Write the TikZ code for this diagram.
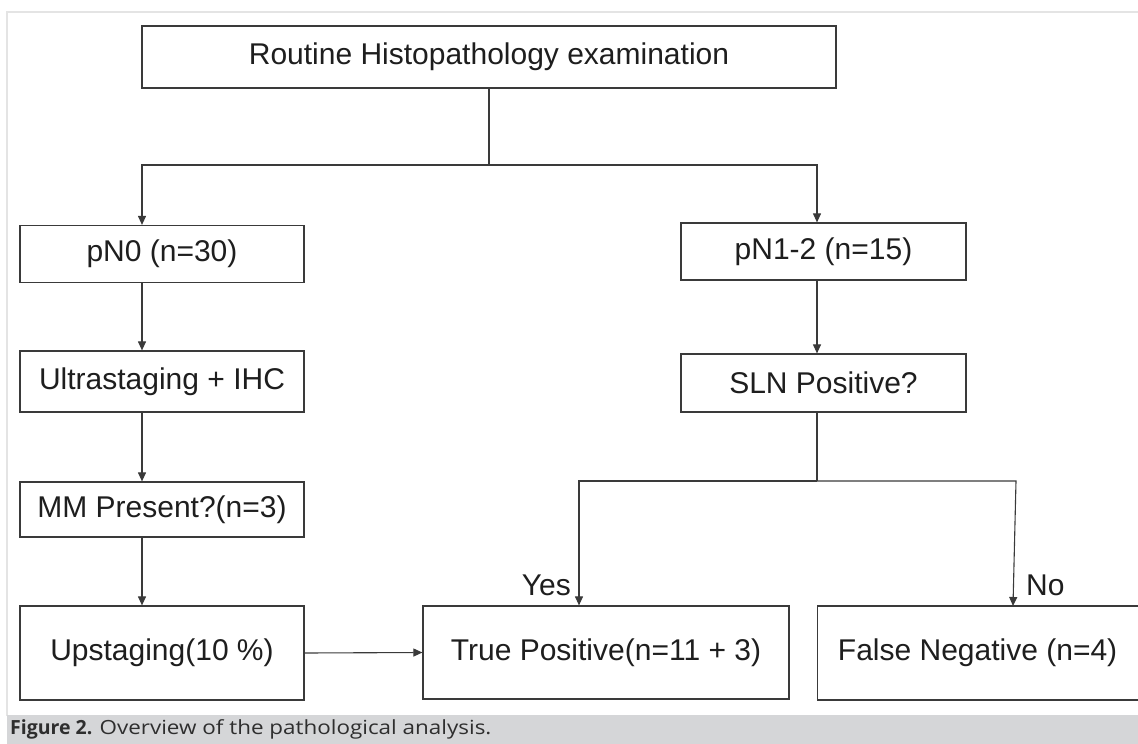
\documentclass[tikz,border=0pt]{standalone}
\usepackage{fontspec}
\setmainfont{Liberation Sans}
\newfontfamily\capfont{Open Sans}
\newfontfamily\capwide[FakeStretch=1.15]{Open Sans}
\usetikzlibrary{arrows.meta}
\definecolor{boxline}{HTML}{3A3A3A}
\definecolor{txt}{HTML}{1E1E1E}
\definecolor{framegray}{HTML}{E4E4E4}
\definecolor{capbar}{HTML}{D5D6D8}
\definecolor{captxt}{HTML}{2E2E2E}
\tikzset{
  box/.style={draw=boxline, line width=1.2pt, fill=white, inner sep=0pt,
    text=txt, font=\fontsize{30}{36}\selectfont},
  conn/.style={draw=boxline, line width=1.1pt},
  arr/.style={conn, -{Triangle[length=9pt,width=8pt]}},
  lbl/.style={text=txt, font=\fontsize{30}{36}\selectfont, inner sep=0pt}
}
\begin{document}
\begin{tikzpicture}[x=1pt,y=-1pt]
\useasboundingbox (0,0) rectangle (1138,744);
% frame and caption
\draw[framegray, line width=1.5pt] (1140,12) -- (7,12) -- (7,716);
\fill[capbar] (7,715) rectangle (1140,744);
\node[anchor=base west, inner sep=0pt, text=captxt, font=\fontsize{19.5}{22}\selectfont] (cap) at (10,734)
  {{\capfont\bfseries Figure 2.} {\capwide Overview of the pathological analysis.}};
% boxes
\node[box, minimum width=694pt, minimum height=62pt] (top) at (489,57) {Routine Histopathology examination};
\node[box, minimum width=284pt, minimum height=57pt] (pn0) at (162,254) {pN0 (n=30)};
\node[box, minimum width=284pt, minimum height=61pt] (ultra) at (162,381.5) {Ultrastaging + IHC};
\node[box, minimum width=284pt, minimum height=55pt] (mm) at (162,509.5) {MM Present?(n=3)};
\node[box, minimum width=284pt, minimum height=94pt] (up) at (162,653) {Upstaging(10 \%)};
\node[box, minimum width=285pt, minimum height=57pt] (pn1) at (823.5,251.5) {pN1-2 (n=15)};
\node[box, minimum width=285pt, minimum height=58pt] (sln) at (823.5,383) {SLN Positive?};
\node[box, minimum width=366pt, minimum height=93pt] (tp) at (606,652.5) {True Positive(n=11 + 3)};
\node[box, minimum width=323pt, minimum height=94pt, anchor=west] (fn) at (817,653) {\hspace*{-3pt}False Negative (n=4)};
% junction coordinates
\coordinate (j1) at (489,165);
\coordinate (a1) at (142,165);
\coordinate (a2) at (817,165);
\coordinate (j2) at (817,481);
\coordinate (b1) at (579,481);
\coordinate (b2) at (1016,481);
\coordinate (b3) at (1013,606);
% connectors
\draw[conn] (top.south) -- (j1);
\draw[arr] (j1) -- (a1) -- (a1 |- pn0.north);
\draw[arr] (j1) -- (a2) -- (a2 |- pn1.north);
\draw[arr] (pn0.south -| a1) -- (ultra.north -| a1);
\draw[arr] (ultra.south -| a1) -- (mm.north -| a1);
\draw[arr] (mm.south -| a1) -- (up.north -| a1);
\draw[arr] (pn1.south -| a2) -- (sln.north -| a2);
\draw[conn] (sln.south -| a2) -- (j2);
\draw[arr] (j2) -- (b1) -- (b1 |- tp.north);
\draw[arr] (j2) -- (b2) -- (b3);
\draw[arr] (up.east) -- (tp.west);
% labels
\node[lbl, anchor=base east] (yes) at (571,595) {Yes};
\node[lbl, anchor=base west] (no) at (1026,595) {No};
\end{tikzpicture}
\end{document}
